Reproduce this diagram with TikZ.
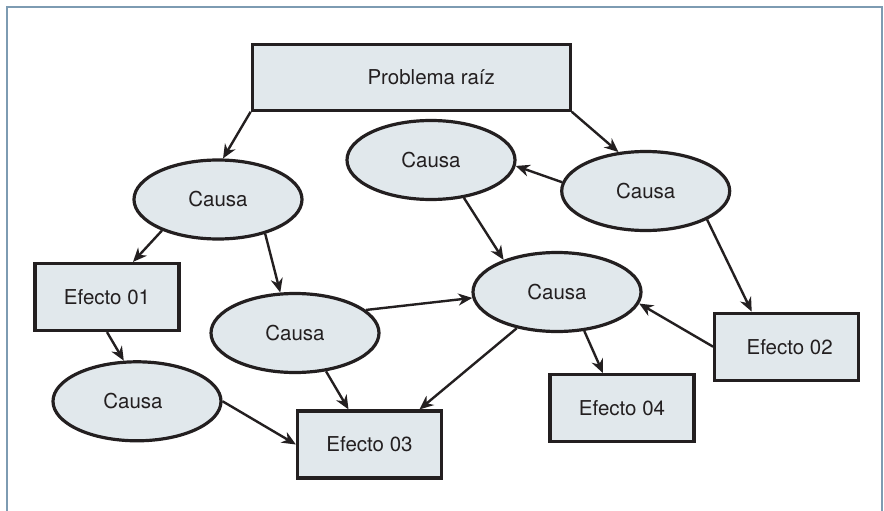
\documentclass[tikz,border=0pt]{standalone}
\usepackage{fontspec}
\setmainfont{TeX Gyre Heros}
\usetikzlibrary{shapes.geometric,arrows.meta,calc}
\definecolor{nodefill}{RGB}{225,232,236}
\definecolor{edgecol}{RGB}{35,31,32}
\definecolor{framecol}{RGB}{125,155,178}
\begin{document}
\begin{tikzpicture}[x=1pt,y=-1pt,
  nodetext/.style={font=\fontsize{20.5}{24}\selectfont, text=edgecol},
  box/.style={rectangle, draw=edgecol, line width=3.2pt, fill=nodefill, minimum width=144pt, minimum height=67pt, inner sep=0pt, nodetext},
  oval/.style={ellipse, draw=edgecol, line width=3.2pt, fill=nodefill, minimum width=168pt, minimum height=79pt, inner sep=0pt, nodetext},
  conn/.style={draw=edgecol, line width=2.4pt, -{Stealth[length=14pt,width=12pt,inset=4.5pt]}},
  frameline/.style={draw=framecol, line width=2pt}
]
\clip (0,0) rectangle (884,511);
\draw[frameline] (7,520) -- (7,7.5) -- (881.5,7.5) -- (881.5,520);

% nodes
\node[box, minimum width=318pt, minimum height=66pt] (prob) at (411.2,77.2) {\hspace*{40pt}Problema raíz};
\node[oval] (c1) at (218,199.5) {Causa};
\node[oval] (c2) at (431,160) {Causa};
\node[oval] (c3) at (645.7,191) {Causa};
\node[oval] (c4) at (295,333) {Causa};
\node[oval] (c5) at (557,292) {Causa};
\node[oval] (c6) at (137,401.3) {\hspace*{-8pt}Causa};
\node[box] (e1) at (107,297) {Efecto 01};
\node[box] (e2) at (786.7,346.7) {\hspace*{6pt}Efecto 02};
\node[box] (e3) at (369.5,444.5) {Efecto 03};
\node[box] (e4) at (622,408.3) {Efecto 04};

% connectors
\draw[conn] (prob.south west) -- (c1.83);
\draw[conn] (prob.south east) -- (c3.125);
\draw[conn] (c3.174) -- (c2.-4);
\draw[conn] (c3.-25) -- ([xshift=-35pt]e2.north);
\draw[conn] (c2.-49) -- (c5.149);
\draw[conn] (c1.209) -- ([xshift=26pt]e1.north);
\draw[conn] (c1.-36) -- (c4.110);
\draw[conn] (e1.south) -- (c6.108);
\draw[conn] (c4.18) -- (c5.184);
\draw[conn] (e2.west) -- (c5.-8);
\draw[conn] (c5.-55) -- ([xshift=-19pt]e4.north);
\draw[conn] (c5.222) -- ([xshift=50pt]e3.north);
\draw[conn] (c4.-51) -- ([xshift=-21pt]e3.north);
\draw[conn] (c6.0) -- (e3.west);
\end{tikzpicture}
\end{document}
